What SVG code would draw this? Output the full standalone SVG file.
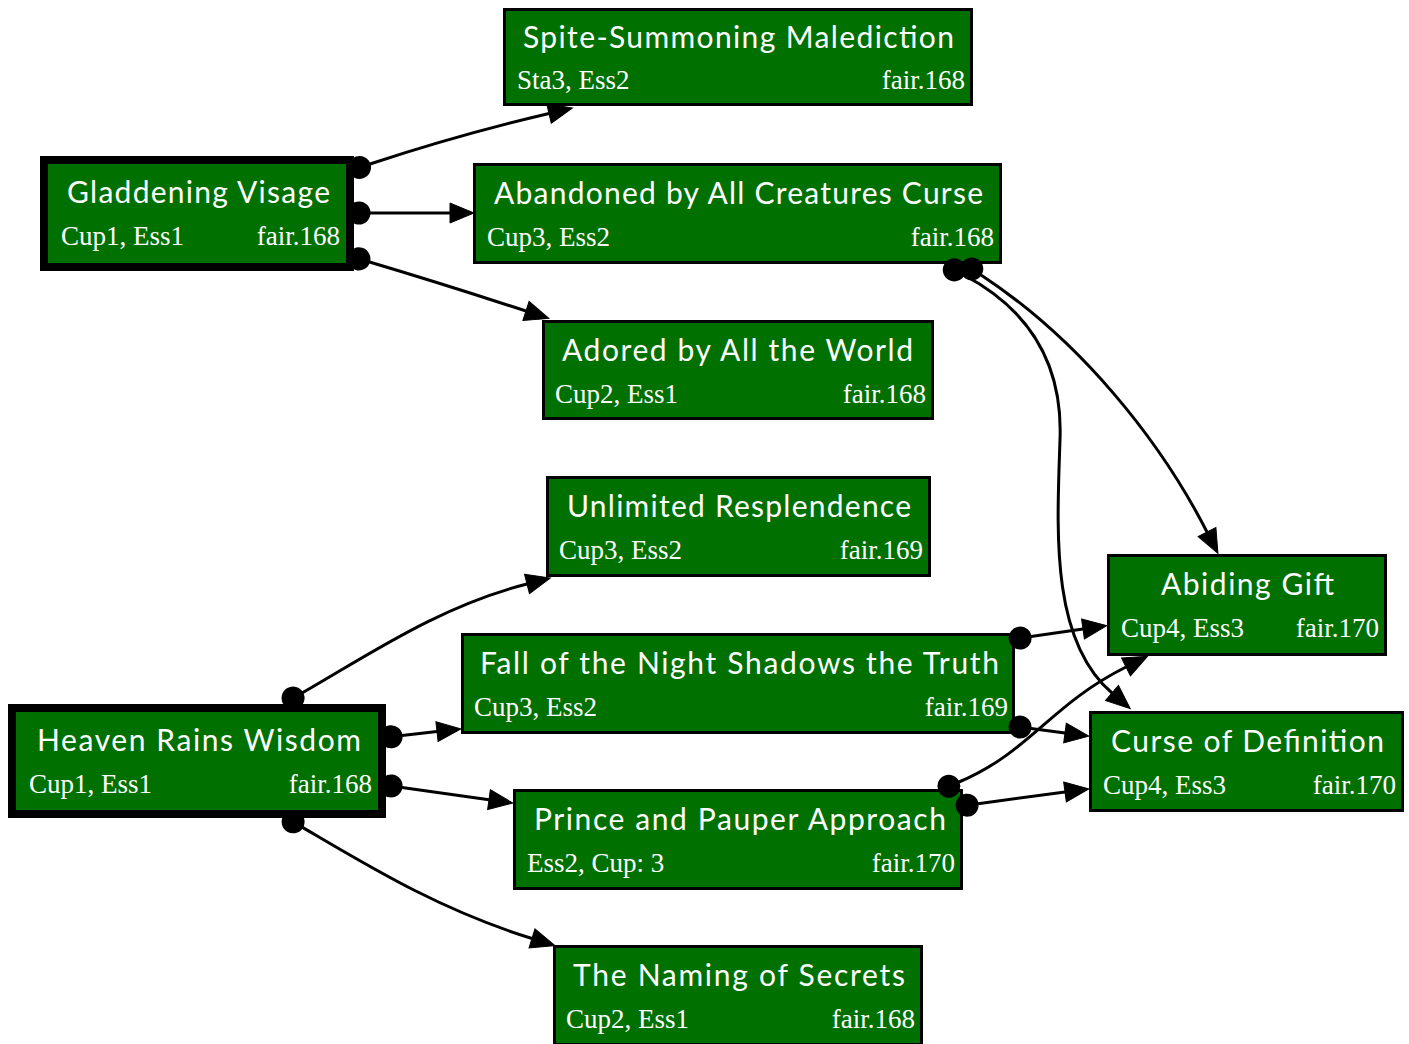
<svg xmlns="http://www.w3.org/2000/svg" width="1409" height="1044" viewBox="0 0 1409 1044">
  <style>
    .node rect { fill: #007000; stroke: #000; stroke-width: 3; }
    .node.root rect { stroke-width: 8; }
    .title { font-family: Lato, "Open Sans", "DejaVu Sans", sans-serif; font-size: 30px; fill: #fff; text-anchor: middle; }
    .sub { font-family: "Liberation Serif", "DejaVu Serif", serif; font-size: 27px; fill: #fff; }
    .sub.r { text-anchor: end; }
    .edges path { fill: none; stroke: #000; stroke-width: 3; marker-start: url(#dot); marker-end: url(#arrow); }
  </style>
  <defs>
    <marker id="arrow" markerUnits="userSpaceOnUse" viewBox="-1 -11 27 22" refX="0" refY="0" markerWidth="27" markerHeight="22" orient="auto">
      <path d="M0,-10 L24,0 L0,10 Z" fill="#000" stroke="#000" stroke-width="1"/>
    </marker>
    <marker id="dot" markerUnits="userSpaceOnUse" viewBox="-25 -13 26 26" refX="0" refY="0" markerWidth="26" markerHeight="26" orient="auto">
      <circle cx="-11" cy="0" r="11.5" fill="#000"/>
    </marker>
  </defs>

  <rect width="1409" height="1044" fill="#fff"/>

  <g id="spite-summoning-malediction" class="node">
    <rect x="504.5" y="9.5" width="467" height="95"/>
    <text class="title" x="738.5" y="48" textLength="431" lengthAdjust="spacing">Spite-Summoning Malediction</text>
    <text class="sub" x="517" y="89">Sta3, Ess2</text>
    <text class="sub r" x="965" y="89">fair.168</text>
  </g>

  <g id="gladdening-visage" class="node root">
    <rect x="44" y="160" width="306" height="107"/>
    <text class="title" x="198.5" y="203" textLength="263" lengthAdjust="spacing">Gladdening Visage</text>
    <text class="sub" x="61" y="245">Cup1, Ess1</text>
    <text class="sub r" x="340" y="245">fair.168</text>
  </g>

  <g id="abandoned-by-all-creatures-curse" class="node">
    <rect x="474.5" y="164.5" width="526" height="98"/>
    <text class="title" x="738.5" y="204" textLength="489" lengthAdjust="spacing">Abandoned by All Creatures Curse</text>
    <text class="sub" x="487" y="246">Cup3, Ess2</text>
    <text class="sub r" x="994" y="246">fair.168</text>
  </g>

  <g id="adored-by-all-the-world" class="node">
    <rect x="543.5" y="321.5" width="389" height="97"/>
    <text class="title" x="737.5" y="361" textLength="351" lengthAdjust="spacing">Adored by All the World</text>
    <text class="sub" x="555" y="403">Cup2, Ess1</text>
    <text class="sub r" x="926" y="403">fair.168</text>
  </g>

  <g id="unlimited-resplendence" class="node">
    <rect x="547.5" y="477.5" width="382" height="98"/>
    <text class="title" x="739" y="517" textLength="344" lengthAdjust="spacing">Unlimited Resplendence</text>
    <text class="sub" x="559" y="559">Cup3, Ess2</text>
    <text class="sub r" x="923" y="559">fair.169</text>
  </g>

  <g id="abiding-gift" class="node">
    <rect x="1108.5" y="555.5" width="277" height="99"/>
    <text class="title" x="1247.5" y="595" textLength="173" lengthAdjust="spacing">Abiding Gift</text>
    <text class="sub" x="1121" y="637">Cup4, Ess3</text>
    <text class="sub r" x="1379" y="637">fair.170</text>
  </g>

  <g id="fall-of-the-night-shadows-the-truth" class="node">
    <rect x="462.5" y="634.5" width="551" height="98"/>
    <text class="title" x="739.5" y="674" textLength="519" lengthAdjust="spacing">Fall of the Night Shadows the Truth</text>
    <text class="sub" x="474" y="716">Cup3, Ess2</text>
    <text class="sub r" x="1008" y="716">fair.169</text>
  </g>

  <g id="heaven-rains-wisdom" class="node root">
    <rect x="12" y="708" width="370" height="106"/>
    <text class="title" x="199" y="751" textLength="324" lengthAdjust="spacing">Heaven Rains Wisdom</text>
    <text class="sub" x="29" y="793">Cup1, Ess1</text>
    <text class="sub r" x="372" y="793">fair.168</text>
  </g>

  <g id="curse-of-definition" class="node">
    <rect x="1090.5" y="712.5" width="312" height="98"/>
    <text class="title" x="1247.5" y="752" textLength="273" lengthAdjust="spacing">Curse of Definition</text>
    <text class="sub" x="1103" y="794">Cup4, Ess3</text>
    <text class="sub r" x="1396" y="794">fair.170</text>
  </g>

  <g id="prince-and-pauper-approach" class="node">
    <rect x="514.5" y="790.5" width="447" height="98"/>
    <text class="title" x="740" y="830" textLength="412" lengthAdjust="spacing">Prince and Pauper Approach</text>
    <text class="sub" x="527" y="872">Ess2, Cup: 3</text>
    <text class="sub r" x="955" y="872">fair.170</text>
  </g>

  <g id="the-naming-of-secrets" class="node">
    <rect x="554.5" y="946.5" width="367" height="98"/>
    <text class="title" x="739" y="986" textLength="332" lengthAdjust="spacing">The Naming of Secrets</text>
    <text class="sub" x="566" y="1028">Cup2, Ess1</text>
    <text class="sub r" x="915" y="1028">fair.168</text>
  </g>

  <!-- connectors: dot at the source port, filled arrowhead at the target -->
  <g id="connectors" class="edges">
    <path d="M370,164 C440,141 500,125 549,113.5"/>
    <path d="M370,213 L450,213"/>
    <path d="M369.5,262 C430,280 480,296 526,311"/>
    <path d="M302.6,692.6 C370,654 440,606 527,584"/>
    <path d="M402,735.5 L437,731.6"/>
    <path d="M402,787.5 L489,799.7"/>
    <path d="M302.6,827.4 C370,867 440,910 532,938.5"/>
    <path d="M981,275 C1080,340 1160,440 1207,532"/>
    <path d="M964,275 C1030,310 1063,365 1060,440 C1057,530 1050,640 1112,693"/>
    <path d="M1031,636.5 L1083,629"/>
    <path d="M1031,728.5 L1065,733"/>
    <path d="M959,782 C1030,752 1050,705 1126,667"/>
    <path d="M978,803.7 L1065,792"/>
  </g>
</svg>
